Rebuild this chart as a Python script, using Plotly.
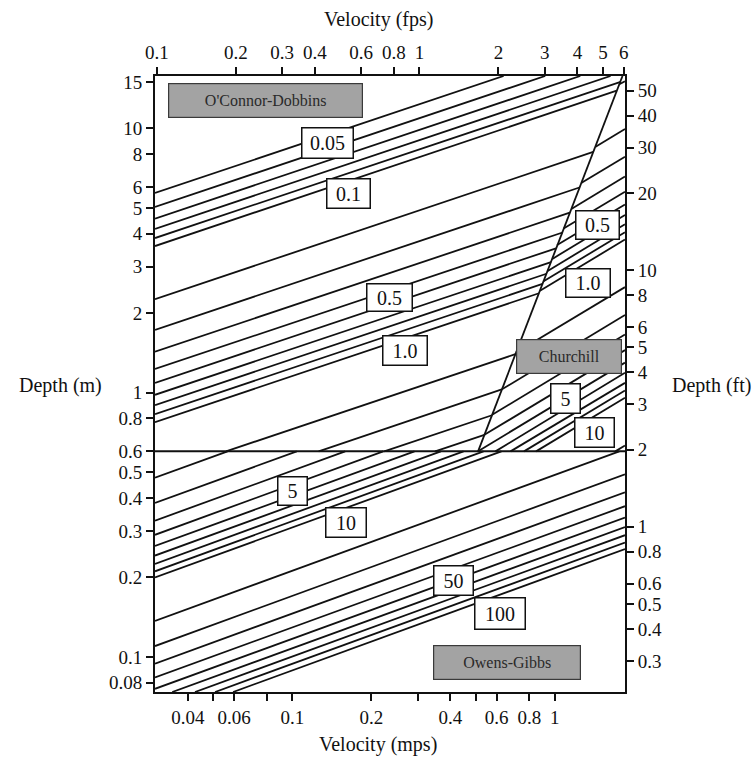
import math
import plotly.graph_objects as go

# O'Connor-Dobbins region contour segments: rate ka (1/d), start/end (velocity m/s, depth m)
od_k = [0.05, 0.06, 0.07, 0.08, 0.09, 0.1, 0.2, 0.3, 0.4, 0.5, 0.6, 0.7, 0.8, 0.9, 1, 2, 3, 4, 5]
od_u0 = [0.03, 0.03, 0.03, 0.03, 0.03, 0.03, 0.03, 0.03, 0.03, 0.03, 0.03, 0.03, 0.03, 0.03, 0.03,
         0.0559, 0.126, 0.224, 0.35]
od_h0 = [5.70, 5.05, 4.56, 4.17, 3.85, 3.59, 2.26, 1.73, 1.43, 1.23, 1.09, 0.982, 0.898, 0.83, 0.774,
         0.6, 0.6, 0.6, 0.6]
od_u1 = [0.638, 0.919, 1.25, 1.63, 1.78, 1.72, 1.40, 1.24, 1.14, 1.07, 1.01, 0.967, 0.929, 0.897, 0.87,
         0.708, 0.628, 0.576, 0.539]
od_h1 = [15.8, 15.8, 15.8, 15.8, 15.0, 13.9, 8.15, 5.98, 4.80, 4.04, 3.52, 3.12, 2.82, 2.58, 2.38,
         1.40, 1.03, 0.822, 0.693]

# Churchill region
ch_k = [0.1, 0.2, 0.3, 0.4, 0.5, 0.6, 0.7, 0.8, 0.9, 1, 2, 3, 4, 5, 6, 7, 8, 9, 10, 20]
ch_u0 = [1.76, 1.43, 1.26, 1.16, 1.08, 1.02, 0.978, 0.939, 0.906, 0.878, 0.712, 0.629, 0.577, 0.539,
         0.51, 0.594, 0.678, 0.763, 0.848, 1.70]
ch_h0 = [14.7, 8.53, 6.22, 4.97, 4.18, 3.62, 3.21, 2.89, 2.64, 2.43, 1.42, 1.03, 0.825, 0.693,
         0.601, 0.6, 0.6, 0.6, 0.6, 0.6]
ch_u1 = [1.85, 1.85, 1.85, 1.85, 1.85, 1.85, 1.85, 1.85, 1.85, 1.85, 1.85, 1.85, 1.85, 1.85,
         1.85, 1.85, 1.85, 1.85, 1.85, 1.85]
ch_h1 = [15.1, 9.96, 7.82, 6.58, 5.76, 5.16, 4.71, 4.34, 4.05, 3.80, 2.51, 1.97, 1.66, 1.45,
         1.30, 1.19, 1.09, 1.02, 0.957, 0.632]

# Owens-Gibbs region
og_k = [2, 3, 4, 5, 6, 7, 8, 9, 10, 20, 30, 40, 50, 60, 70, 80, 90, 100]
og_u0 = [0.03, 0.03, 0.03, 0.03, 0.03, 0.03, 0.03, 0.03, 0.03, 0.03, 0.03, 0.03, 0.03, 0.03,
         0.0349, 0.0426, 0.0508, 0.0595]
og_h0 = [0.477, 0.383, 0.328, 0.290, 0.263, 0.242, 0.225, 0.211, 0.200, 0.137, 0.110, 0.0944,
         0.0837, 0.0758, 0.0737, 0.0737, 0.0737, 0.0737]
og_u1 = [0.0567, 0.104, 0.159, 0.222, 0.292, 0.368, 0.449, 0.535, 0.626, 1.76, 1.85, 1.85,
         1.85, 1.85, 1.85, 1.85, 1.85, 1.85]
og_h1 = [0.6, 0.6, 0.6, 0.6, 0.6, 0.6, 0.6, 0.6, 0.6, 0.6, 0.491, 0.420,
         0.372, 0.337, 0.310, 0.289, 0.271, 0.256]

# region boundaries
split_depth = 0.6                      # Owens-Gibbs below this depth (m)
split_u = [0.03, 1.85]
div_u = [0.51, 1.81]                   # O'Connor-Dobbins / Churchill dividing line
div_h = [0.6, 15.8]

# axis ranges and ticks
u_range = [0.030, 1.85]                # m/s  (bottom)
fps_range = [0.0984, 6.07]             # ft/s (top)
h_range = [0.0737, 15.8]               # m    (left)
ft_range = [0.2272, 57.1]              # ft   (right, as printed on the nomograph)
mps_ticks = [0.04, 0.05, 0.06, 0.08, 0.1, 0.2, 0.3, 0.4, 0.5, 0.6, 0.8, 1]
mps_text = ["0.04", "", "0.06", "", "0.1", "0.2", "", "0.4", "", "0.6", "0.8", "1"]
fps_ticks = [0.1, 0.2, 0.3, 0.4, 0.6, 0.8, 1, 2, 3, 4, 5, 6]
m_ticks = [0.08, 0.1, 0.2, 0.3, 0.4, 0.5, 0.6, 0.8, 1, 2, 3, 4, 5, 6, 8, 10, 15]
ft_ticks = [0.3, 0.4, 0.5, 0.6, 0.8, 1, 2, 3, 4, 5, 6, 8, 10, 20, 30, 40, 50]

# ---------------- figure ----------------
W, H = 756, 760
ML, MR, MT, MB = 155, 131, 76, 68
FONT = "Liberation Serif, Times New Roman, serif"
INK = "#111111"
LINE = dict(color=INK, width=1.8)

fig = go.Figure()

def add_segments(u0, h0, u1, h1, k):
    for a, b, c, d, kk in zip(u0, h0, u1, h1, k):
        fig.add_trace(go.Scatter(x=[a, c], y=[b, d], mode="lines", line=LINE,
                                 name=f"ka={kk}", showlegend=False, hoverinfo="name"))

add_segments(od_u0, od_h0, od_u1, od_h1, od_k)
add_segments(ch_u0, ch_h0, ch_u1, ch_h1, ch_k)
add_segments(og_u0, og_h0, og_u1, og_h1, og_k)

fig.add_trace(go.Scatter(x=split_u, y=[split_depth, split_depth], mode="lines",
                         line=dict(color=INK, width=2.0), showlegend=False, hoverinfo="skip"))
fig.add_trace(go.Scatter(x=div_u, y=div_h, mode="lines",
                         line=dict(color=INK, width=1.8), showlegend=False, hoverinfo="skip"))
# invisible trace to activate the secondary (fps / ft) axes
fig.add_trace(go.Scatter(x=fps_range, y=ft_range, xaxis="x2", yaxis="y2", mode="markers",
                         marker=dict(opacity=0), showlegend=False, hoverinfo="skip"))

def lg(v):
    return math.log10(v)

axis_common = dict(type="log", showgrid=False, zeroline=False, showline=True, linecolor=INK,
                   linewidth=2, ticks="outside", ticklen=7, tickwidth=1.5, tickcolor=INK,
                   tickfont=dict(family=FONT, size=19, color=INK), automargin=False)

fig.update_layout(
    width=W, height=H, margin=dict(l=ML, r=MR, t=MT, b=MB, pad=0),
    paper_bgcolor="white", plot_bgcolor="white", showlegend=False,
    xaxis=dict(axis_common, range=[lg(u_range[0]), lg(u_range[1])],
               tickvals=mps_ticks, ticktext=mps_text),
    xaxis2=dict(axis_common, range=[lg(fps_range[0]), lg(fps_range[1])],
                overlaying="x", side="top", anchor="y",
                tickvals=fps_ticks, ticktext=[f"{v:g}" for v in fps_ticks]),
    yaxis=dict(axis_common, range=[lg(h_range[0]), lg(h_range[1])],
               tickvals=m_ticks, ticktext=[f"{v:g}" for v in m_ticks]),
    yaxis2=dict(axis_common, range=[lg(ft_range[0]), lg(ft_range[1])],
                overlaying="y", side="right", anchor="x",
                tickvals=ft_ticks, ticktext=[f"{v:g}" for v in ft_ticks]),
)

PW, PH = W - ML - MR, H - MT - MB

def px(x, y):
    return (x - ML) / PW, (H - MB - y) / PH

titles = [("Velocity (fps)", 378, 19), ("Velocity (mps)", 378, 744),
          ("Depth (m)", 60, 385), ("Depth (ft)", 711, 385)]
for t, x, y in titles:
    a, b = px(x, y)
    fig.add_annotation(text=t, x=a, y=b, xref="paper", yref="paper", showarrow=False,
                       xanchor="center", yanchor="middle",
                       font=dict(family=FONT, size=20, color=INK))

gray_boxes = [("O'Connor-Dobbins", 265, 100, 193, 33), ("Churchill", 569, 356, 104, 33),
              ("Owens-Gibbs", 507, 662, 146, 33)]
for t, x, y, w, h in gray_boxes:
    a, b = px(x, y)
    fig.add_annotation(text=t, x=a, y=b, xref="paper", yref="paper", showarrow=False,
                       xanchor="center", yanchor="middle", width=w, height=h,
                       bgcolor="#a3a3a3", bordercolor="#3a3a3a", borderwidth=1.2, borderpad=0,
                       font=dict(family=FONT, size=16, color="#2a2a2a"))

value_boxes = [("0.05", 327, 143, 50, 29), ("0.1", 348, 193, 42, 28), ("0.5", 389, 297, 44, 26),
               ("1.0", 405, 350, 43, 28), ("0.5", 597, 225, 42, 27), ("1.0", 588, 283, 43, 27),
               ("5", 565, 398, 28, 28), ("10", 594, 432, 38, 28), ("5", 292, 491, 28, 27),
               ("10", 346, 522, 39, 28), ("50", 453, 580, 38, 28), ("100", 500, 613, 49, 30)]
for t, x, y, w, h in value_boxes:
    a, b = px(x, y)
    fig.add_annotation(text=t, x=a, y=b, xref="paper", yref="paper", showarrow=False,
                       xanchor="center", yanchor="middle", width=w, height=h,
                       bgcolor="white", bordercolor=INK, borderwidth=1.5, borderpad=0,
                       font=dict(family=FONT, size=20, color=INK))

fig.write_html("out.html", config={"displayModeBar": False},
               post_script="document.body.style.margin='0';document.body.style.padding='0';")
